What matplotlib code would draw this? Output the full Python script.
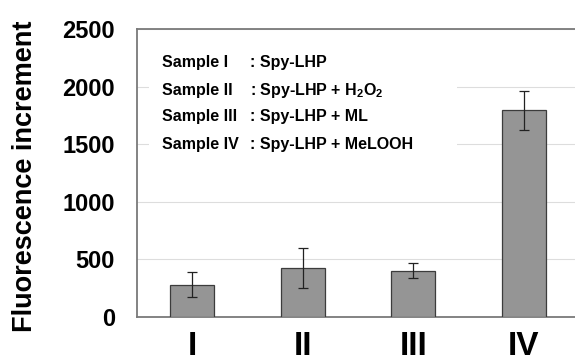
import matplotlib
matplotlib.use('Agg')
import matplotlib.pyplot as plt
from matplotlib.patches import Rectangle

plt.rcParams['font.family'] = ['Liberation Sans', 'DejaVu Sans']
plt.rcParams['mathtext.fontset'] = 'custom'
plt.rcParams['mathtext.rm'] = 'Liberation Sans:bold'
plt.rcParams['mathtext.bf'] = 'Liberation Sans:bold'

samples = ['I', 'II', 'III', 'IV']
values = [280, 425, 402, 1795]
errors = [110, 175, 65, 170]
legend_names = ['Sample I', 'Sample II', 'Sample III', 'Sample IV']
legend_desc = [': Spy-LHP', ': Spy-LHP + H$_\\mathrm{2}$O$_\\mathrm{2}$', ': Spy-LHP + ML', ': Spy-LHP + MeLOOH']
yticks = [0, 500, 1000, 1500, 2000, 2500]

fig = plt.figure(figsize=(5.75, 3.55), dpi=100)
ax = fig.add_axes([137 / 575, 38 / 355, 442 / 575, 288 / 355])

x = range(len(samples))
ax.bar(x, values, width=0.4, color='#959595', edgecolor='#3c3c3c', linewidth=0.9, zorder=3)
ax.errorbar(x, values, yerr=errors, fmt='none', ecolor='#222222', elinewidth=0.9,
            capsize=3.5, capthick=0.9, zorder=4)

ax.set_xlim(-0.5, 3.5)
ax.set_ylim(0, 2500)
ax.set_yticks(yticks)
ax.set_xticks(list(x))
ax.set_xticklabels(samples, fontsize=24, fontweight='bold')
ax.set_yticklabels([str(v) for v in yticks], fontsize=17, fontweight='bold')
ax.tick_params(axis='y', length=0, pad=16)
ax.tick_params(axis='x', length=0, pad=10)
ax.yaxis.grid(True, color='#dddddd', linewidth=0.8, zorder=0)
ax.set_axisbelow(True)

for s in ['left', 'bottom', 'top', 'right']:
    ax.spines[s].set_color('#7a7a7a')
    ax.spines[s].set_linewidth(1.3)

ax.set_ylabel('Fluorescence increment', fontsize=19.5, fontweight='bold')
ax.yaxis.set_label_coords(-0.225, 0.49)

# white panel behind the sample list
fig.patches.append(Rectangle((149 / 575, (355 - 170) / 355), 308 / 575, 125 / 355,
                             transform=fig.transFigure, facecolor='white', edgecolor='none',
                             zorder=1))

row_y = [63, 90, 117, 144]
for name, desc, yy in zip(legend_names, legend_desc, row_y):
    fig.text(162 / 575, 1 - yy / 355, name, fontsize=11.5, fontweight='bold', va='center')
    fig.text(250 / 575, 1 - yy / 355, desc, fontsize=11.5, fontweight='bold', va='center')

fig.savefig('out.png', dpi=100)
